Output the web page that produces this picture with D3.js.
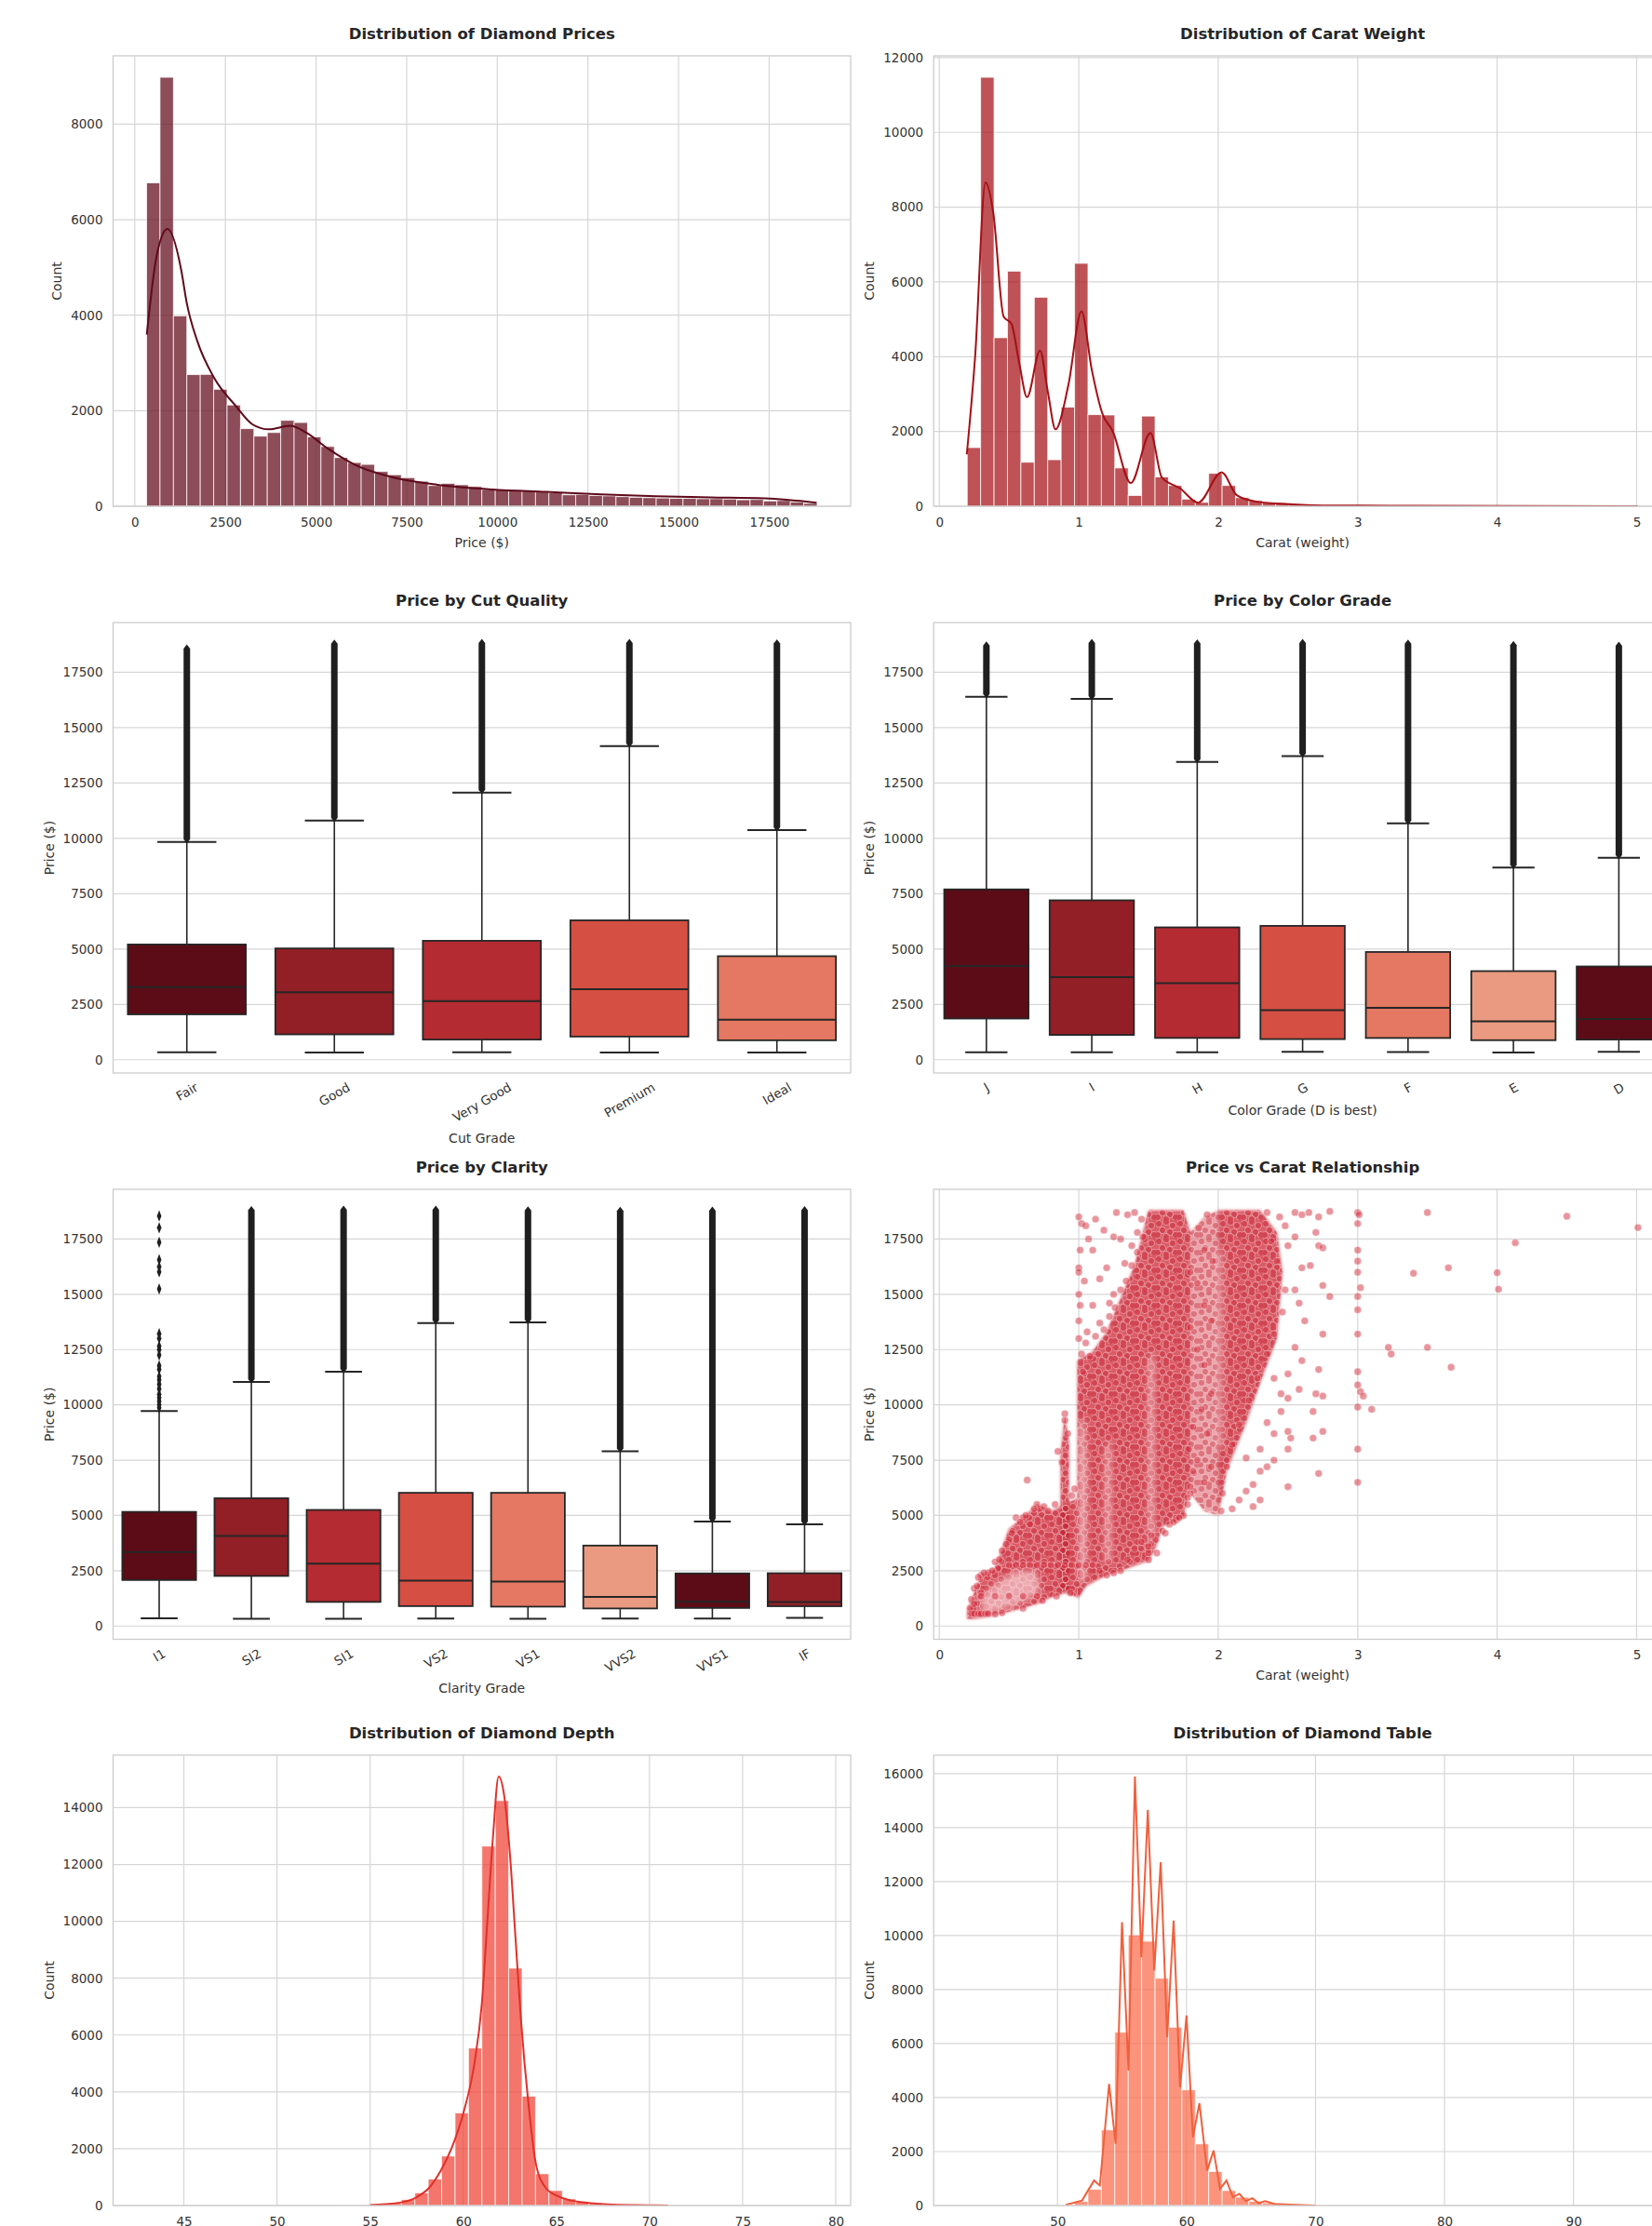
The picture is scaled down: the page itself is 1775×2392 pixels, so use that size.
<!DOCTYPE html>
<html>
<head>
<meta charset="utf-8">
<script src="https://cdn.jsdelivr.net/npm/d3@7"></script>
<style>
  body { margin: 0; background: #fff; }
  svg { display: block; font-family: "DejaVu Sans", sans-serif; }
</style>
</head>
<body>
<svg id="chart"></svg>
<script>
// ---- data ----

// price histogram (50 bins between min and max price)
const priceRange = [326, 18823];
const priceCounts = [6771, 8981, 3985, 2756, 2760, 2449, 2120, 1625, 1468, 1543,
  1798, 1753, 1453, 1251, 1019, 914, 876, 727, 659, 599,
  524, 434, 479, 449, 412, 352, 345, 337, 322, 300,
  285, 240, 247, 225, 217, 202, 187, 180, 172, 165,
  165, 157, 157, 150, 135, 142, 112, 120, 90, 60];
const priceKde = [[331, 3595], [602, 5240], [903, 5805], [1280, 4950], [1430, 4270], [1730, 3445],
  [2180, 2700], [2785, 2100], [3235, 1720], [3690, 1610], [4290, 1685], [4740, 1535],
  [5340, 1200], [6095, 860], [7150, 600], [8350, 450], [9860, 352], [11360, 300],
  [12870, 247], [14370, 210], [15880, 187], [17380, 165], [18810, 75]];
const priceXTicks = [0, 2500, 5000, 7500, 10000, 12500, 15000, 17500];
const priceCountTicks = [0, 2000, 4000, 6000, 8000];

// carat histogram
const caratRange = [0.2, 5.01];
const caratCounts = [1569, 11473, 4507, 6287, 1177, 5588, 1244, 2651, 6497, 2450,
  2440, 1024, 287, 2411, 785, 555, 191, 105, 880, 555,
  230, 153, 96, 67, 57, 38, 19, 10, 8, 25,
  5, 3, 2, 1, 2, 1, 1, 0, 1, 0,
  1, 1, 0, 0, 0, 0, 0, 0, 0, 1];
const caratKde = [[0.197, 1388], [0.257, 4019], [0.331, 8660], [0.387, 7847], [0.461, 5072],
  [0.517, 4880], [0.573, 3828], [0.629, 2919], [0.722, 4163], [0.778, 3062], [0.833, 2057],
  [0.926, 3253], [1.019, 5215], [1.094, 3636], [1.168, 2488], [1.243, 2009], [1.373, 622],
  [1.514, 1962], [1.596, 766], [1.726, 478], [1.856, 96], [2.024, 909], [2.135, 287],
  [2.284, 115], [2.507, 57], [2.805, 19], [3.03, 19], [3.4, 10], [5.01, 0]];
const caratTicks = [0, 1, 2, 3, 4, 5];
const caratCountTicks = [0, 2000, 4000, 6000, 8000, 10000, 12000];

// box plots: [min, q1, median, q3, upper whisker, max outlier]
const priceTicks = [0, 2500, 5000, 7500, 10000, 12500, 15000, 17500];
const boxColors = ["#5b0c17", "#921f26", "#b42b31", "#d54f43", "#e47862", "#ea9a80"];

const cutGrades = ["Fair", "Good", "Very Good", "Premium", "Ideal"];
const cutBoxes = [[337, 2050, 3282, 5206, 9836, 18574], [327, 1145, 3050, 5028, 10800, 18788],
  [336, 912, 2648, 5373, 12070, 18818], [326, 1046, 3185, 6296, 14170, 18823],
  [326, 878, 1810, 4678, 10370, 18806]];

const colorGrades = ["J", "I", "H", "G", "F", "E", "D"];
const colorBoxes = [[335, 1860, 4234, 7695, 16400, 18710], [334, 1120, 3730, 7202, 16300, 18823],
  [337, 984, 3460, 5980, 13450, 18803], [354, 931, 2242, 6048, 13720, 18818],
  [342, 982, 2344, 4868, 10680, 18791], [326, 882, 1739, 4003, 8680, 18731],
  [357, 911, 1838, 4214, 9120, 18693]];

const clarityGrades = ["I1", "SI2", "SI1", "VS2", "VS1", "VVS2", "VVS1", "IF"];
const clarityBoxes = [[345, 2080, 3344, 5161, 9720, null], [326, 2264, 4072, 5777, 11040, 18804],
  [326, 1089, 2822, 5250, 11500, 18818], [334, 900, 2054, 6024, 13700, 18823],
  [327, 876, 2005, 6023, 13730, 18795], [336, 794, 1311, 3638, 7900, 18768],
  [336, 816, 1093, 2379, 4720, 18777], [369, 895, 1080, 2388, 4600, 18806]];
// I1 outliers are sparse enough to read one by one
const i1Outliers = [18540, 18010, 17350, 16562, 16241, 16016, 15244, 13218, 13009, 12655,
  12494, 12253, 11771, 11610, 11288, 11127, 10934, 10725, 10484, 10323, 10162, 10002, 9873];

// scatter: outlines of the dense cloud (carat, price), pale streaks, single points
const scatterCloud = [
  [[0.2, 330], [0.2, 650], [0.25, 1500], [0.3, 2300], [0.4, 2600], [0.45, 3500], [0.5, 4400], [0.6, 4900],
   [0.7, 5500], [0.8, 5200], [0.9, 5500], [1.0, 5800], [1.0, 1300], [0.9, 1500], [0.8, 1300], [0.7, 1000],
   [0.5, 650], [0.35, 420], [0.25, 330]],
  [[0.87, 1600], [0.87, 7800], [0.9, 9500], [0.93, 8300], [0.93, 1600]],
  [[0.99, 1300], [0.99, 12000], [1.1, 12400], [1.2, 13300], [1.3, 14800], [1.4, 16300], [1.5, 18800],
   [1.5, 2950], [1.3, 2500], [1.2, 2300], [1.05, 1800], [1.0, 1300]],
  [[1.5, 2950], [1.5, 18800], [1.75, 18800], [1.8, 17800], [1.8, 6500], [1.75, 4900], [1.6, 4500], [1.55, 3500]],
  [[2.0, 5000], [2.0, 18800], [2.3, 18800], [2.42, 17800], [2.46, 16000], [2.42, 13000], [2.3, 11000],
   [2.2, 9200], [2.06, 7000]]
];
const scatterSparse = [
  [[1.8, 6000], [1.8, 17800], [1.9, 18500], [2.0, 18800], [2.0, 5000], [1.9, 5200]]
];
const scatterCores = [
  [[0.3, 600], [0.3, 1400], [0.45, 2100], [0.55, 2500], [0.7, 2500], [0.72, 1500], [0.55, 950], [0.4, 620]],
  [[1.0, 1900], [1.0, 9000], [1.04, 9500], [1.06, 7000], [1.05, 2100]],
  [[1.19, 2900], [1.19, 8000], [1.23, 8500], [1.23, 2900]],
  [[1.5, 3600], [1.5, 12000], [1.54, 12500], [1.54, 4100]],
  [[2.0, 8000], [2.0, 17000], [2.03, 17000], [2.03, 8000]]
];
const scatterPoints = [
  [2.55, 18700], [2.6, 18600], [2.65, 18700], [2.8, 18750], [2.72, 18500], [2.55, 17600], [2.7, 17800],
  [2.72, 17200], [2.75, 17100], [2.6, 16200], [2.66, 16300], [2.55, 15200], [2.75, 15400], [2.8, 14900],
  [2.58, 14600], [2.62, 13800], [2.75, 13200], [2.55, 12600], [2.6, 12000], [2.72, 11600], [2.5, 11400],
  [2.58, 10700], [2.7, 10500], [2.75, 10400], [2.5, 10300], [2.45, 9700], [2.68, 9700], [2.5, 8800],
  [2.52, 8500], [2.75, 8800], [2.68, 8500], [2.5, 8000], [2.72, 6900], [2.5, 6300],
  [2.3, 7000], [2.35, 7200], [2.25, 6400], [2.2, 6100], [2.15, 5700], [2.1, 5300], [2.3, 5700],
  [2.25, 5400], [2.4, 7500], [2.4, 8700], [2.35, 9200], [2.3, 8000], [2.2, 7600], [2.45, 10500], [2.4, 11200],
  [2.38, 17400], [2.42, 16500], [2.48, 15200], [2.46, 14200], [2.4, 13200], [2.35, 12300], [2.28, 11200],
  [2.22, 10200], [2.15, 9100], [2.1, 8200], [2.06, 7200], [2.03, 6000], [2.02, 5200], [2.5, 17200],
  [2.44, 18500], [2.35, 18700], [2.48, 18100],
  [3.0, 18700], [3.01, 18600], [3.0, 18200], [3.0, 17000], [3.0, 16500], [3.0, 16000], [3.02, 15300],
  [3.0, 14900], [3.0, 14300], [3.0, 13200], [3.0, 11500], [3.0, 10900], [3.02, 10600], [3.04, 10400],
  [3.0, 9900], [3.1, 9800], [3.0, 8000], [3.0, 6500],
  [3.22, 12600], [3.24, 12300], [3.4, 15950], [3.5, 18700], [3.5, 12600], [3.65, 16200], [3.67, 11700],
  [4.0, 15980], [4.01, 15230], [4.13, 17330], [4.5, 18530], [5.01, 18020],
  [1.0, 18500], [1.02, 18200], [1.05, 18100], [1.01, 17000], [1.0, 16200], [1.0, 16000], [1.0, 15000],
  [1.04, 15600], [1.01, 14500], [1.07, 17500], [1.1, 17000], [1.2, 16200], [1.15, 15700], [1.27, 18700],
  [1.3, 17500], [1.35, 18600], [1.25, 17600], [1.33, 16400], [1.25, 15000], [1.1, 14500], [1.15, 13700],
  [1.22, 14600], [1.4, 18700], [1.45, 18400], [1.42, 17800], [1.38, 17200], [1.12, 18400], [1.18, 17900],
  [1.06, 13300], [1.02, 12300], [1.05, 12800], [1.08, 12200], [1.12, 13100], [1.18, 13400], [1.22, 14000],
  [1.26, 14400], [1.3, 15200], [1.34, 15600], [1.38, 16300], [1.42, 16900], [1.46, 17600], [1.0, 13000],
  [1.0, 13800], [1.03, 11500],
  [1.8, 16000], [1.85, 15500], [1.9, 17000], [1.92, 18600], [1.85, 12500], [1.9, 11800], [1.95, 10500],
  [1.88, 9800], [1.82, 9000], [1.92, 8700], [1.85, 7500], [1.95, 7200], [1.9, 6500], [1.8, 6000],
  [1.78, 5800], [1.9, 14500], [1.95, 13800], [1.8, 13500], [1.86, 18000], [1.96, 16500],
  [1.6, 4300], [1.65, 4600], [1.7, 4800], [1.75, 5000], [1.55, 3900], [1.5, 3000], [1.5, 3300],
  [1.45, 3800], [1.4, 3500], [1.35, 3000], [1.3, 2500], [1.25, 2400], [1.2, 2300], [1.15, 2500],
  [1.5, 3600], [1.52, 4100], [1.56, 3300], [1.62, 4200], [1.68, 4700], [1.72, 4900], [1.78, 5500],
  [1.8, 6300], [1.82, 7000], [1.79, 8000],
  [0.63, 6600], [0.7, 5500], [0.72, 5300], [0.85, 7900], [0.88, 7400], [0.9, 9600], [0.9, 9300],
  [0.92, 8700], [0.55, 4900], [0.6, 4900], [0.65, 4600], [0.5, 3900], [0.45, 3400], [0.4, 2900],
  [0.3, 2300], [0.28, 2200], [0.25, 1700], [0.23, 1200], [0.3, 1500], [0.22, 800], [0.35, 2400], [0.42, 2600],
  [0.25, 1000], [0.27, 1800], [0.32, 2400], [0.38, 2500], [0.43, 3000], [0.48, 3700], [0.52, 4200],
  [0.58, 4700], [0.62, 5000], [0.68, 5300], [0.75, 5400], [0.78, 5200], [0.83, 5500], [0.95, 5900],
  [0.97, 6200], [0.94, 1500], [0.84, 1350], [0.74, 1150], [0.6, 800], [0.45, 600],
  [0.5, 2750], [0.55, 2760], [0.6, 2750], [0.65, 2760], [0.7, 2750], [0.75, 2760], [0.8, 2750],
  [0.85, 2760], [0.9, 2750], [0.95, 2760], [1.0, 2750], [1.05, 2750], [1.1, 2760],
  [0.3, 1350], [0.4, 1350], [0.5, 1350], [0.6, 1350], [0.7, 1350],
  [0.23, 560], [0.25, 560], [0.28, 560], [0.3, 560], [0.33, 560], [0.35, 560], [0.4, 540]
];

// depth histogram
const depthRange = [43, 79];
const depthCounts = [1, 0, 0, 0, 1, 0, 1, 2, 2, 3, 4, 5, 6, 8, 12, 20,
  30, 50, 90, 210, 447, 930, 1741, 3259, 5541, 12647, 14247, 8353, 3847, 1118,
  529, 235, 141, 94, 59, 47, 35, 24, 12, 8, 5, 3, 2, 1, 1, 0, 0, 1, 0, 1];
const depthKde = [[55, 20], [56.5, 94], [57.5, 294], [58.2, 647], [58.8, 1235], [59.4, 2059],
  [60.0, 3235], [60.6, 5000], [61.0, 7118], [61.3, 10059], [61.6, 13000], [61.9, 15094],
  [62.2, 14412], [62.5, 12412], [62.8, 9470], [63.1, 6529], [63.5, 3588], [63.9, 1470],
  [64.4, 647], [65.0, 353], [65.8, 176], [66.7, 94], [68, 35], [70, 12], [71, 0]];
const depthTicks = [45, 50, 55, 60, 65, 70, 75, 80];
const depthCountTicks = [0, 2000, 4000, 6000, 8000, 10000, 12000, 14000];

// table histogram
const tableRange = [43, 95];
const tableCounts = [1, 0, 0, 0, 0, 2, 6, 25, 150, 600,
  2802, 6420, 10025, 9790, 8420, 6605, 4284, 2284, 1259, 556,
  309, 160, 99, 62, 37, 20, 12, 6, 4, 2,
  1, 1, 0, 0, 1, 0, 0, 0, 0, 0, 0, 0, 0, 0, 0, 0, 0, 0, 0, 1];
const tableKde = [[50.65, 25], [51.9, 185], [52.83, 926], [53.28, 741], [54.0, 4506], [54.5, 2284],
  [55.0, 10494], [55.5, 5000], [56.0, 15889], [56.5, 9198], [57.0, 14654], [57.5, 8704],
  [58.0, 12716], [58.5, 6235], [59.0, 10556], [59.5, 4383], [60.0, 7037], [60.5, 2531],
  [61.0, 3790], [61.6, 1296], [62.1, 2037], [62.6, 617], [63.1, 926], [63.6, 309], [64.1, 432],
  [64.6, 160], [65.1, 272], [65.6, 86], [66.1, 160], [66.8, 62], [68, 37], [70, 0]];
const tableTicks = [50, 60, 70, 80, 90];
const tableCountTicks = [0, 2000, 4000, 6000, 8000, 10000, 12000, 14000, 16000];

// ---- layout ----
const W = 1775, H = 2392;
const COLS = [[121.5, 914], [1003.2, 1796]];
const ROWS = [[60, 544], [669, 1153], [1278, 1761.5], [1886, 2370]];
const GRID = "#d6d6d6", SPINE = "#cccccc", INK = "#333";

const svg = d3.select("#chart").attr("width", W).attr("height", H);
const defs = svg.append("defs");

// speckle texture for the dense part of the scatter (overlapping markers with white rims)
const pat = defs.append("pattern").attr("id", "speckle")
  .attr("width", 23).attr("height", 19).attr("patternUnits", "userSpaceOnUse");
[[3, 4], [11, 2], [18, 6], [7, 11], [15, 13], [21, 16], [2, 16], [11, 18]].forEach(([cx, cy]) => {
  pat.append("circle").attr("cx", cx).attr("cy", cy).attr("r", 3.6)
    .attr("fill", "#c01a2c").attr("fill-opacity", 0.35)
    .attr("stroke", "#fff").attr("stroke-opacity", 0.5).attr("stroke-width", 0.7);
});
defs.append("filter").attr("id", "soft").attr("x", "-5%").attr("y", "-5%").attr("width", "110%").attr("height", "110%")
  .append("feGaussianBlur").attr("stdDeviation", 1.6);
defs.append("filter").attr("id", "softer")
  .append("feGaussianBlur").attr("stdDeviation", 3);

function pad(lo, hi) {
  const m = (hi - lo) * 0.05;
  return [lo - m, hi + m];
}

function panel(col, row, title) {
  const [x0, x1] = COLS[col], [y0, y1] = ROWS[row];
  const id = "clip" + col + row;
  defs.append("clipPath").attr("id", id).append("rect")
    .attr("x", x0).attr("y", y0).attr("width", x1 - x0).attr("height", y1 - y0);
  const g = svg.append("g");
  g.append("text")
    .attr("x", (x0 + x1) / 2).attr("y", y0 - 18)
    .attr("text-anchor", "middle").attr("font-weight", "bold")
    .attr("font-size", 16.5).attr("fill", "#262626")
    .text(title);
  return { g, x0, x1, y0, y1, clip: "url(#" + id + ")" };
}

function frame(p) {
  p.g.append("rect")
    .attr("x", p.x0).attr("y", p.y0).attr("width", p.x1 - p.x0).attr("height", p.y1 - p.y0)
    .attr("fill", "none").attr("stroke", SPINE).attr("stroke-width", 1.3);
}

function gridY(p, y, ticks) {
  p.g.append("g").selectAll("line").data(ticks).join("line")
    .attr("x1", p.x0).attr("x2", p.x1)
    .attr("y1", d => y(d)).attr("y2", d => y(d))
    .attr("stroke", GRID).attr("stroke-width", 1.2);
}

function gridX(p, x, ticks) {
  p.g.append("g").selectAll("line").data(ticks).join("line")
    .attr("y1", p.y0).attr("y2", p.y1)
    .attr("x1", d => x(d)).attr("x2", d => x(d))
    .attr("stroke", GRID).attr("stroke-width", 1.2);
}

function styleAxis(a) {
  a.select(".domain").remove();
  a.selectAll("text").attr("font-size", 13.5).attr("font-family", "DejaVu Sans").attr("fill", INK);
}

function yAxis(p, y, ticks, label) {
  const a = p.g.append("g").attr("transform", `translate(${p.x0},0)`)
    .call(d3.axisLeft(y).tickValues(ticks).tickSize(0).tickPadding(11).tickFormat(d3.format("d")));
  styleAxis(a);
  const b = a.node().getBBox();
  p.g.append("text")
    .attr("transform", `translate(${p.x0 + b.x - 15},${(p.y0 + p.y1) / 2}) rotate(-90)`)
    .attr("text-anchor", "middle").attr("dominant-baseline", "central")
    .attr("font-size", 14).attr("fill", INK).text(label);
}

function xAxis(p, x, ticks, label) {
  const a = p.g.append("g").attr("transform", `translate(0,${p.y1})`)
    .call(d3.axisBottom(x).tickValues(ticks).tickSize(0).tickPadding(12).tickFormat(d3.format("d")));
  styleAxis(a);
  if (label) {
    const b = a.node().getBBox();
    p.g.append("text")
      .attr("x", (p.x0 + p.x1) / 2).attr("y", p.y1 + b.y + b.height + 14)
      .attr("text-anchor", "middle").attr("dominant-baseline", "central")
      .attr("font-size", 14).attr("fill", INK).text(label);
  }
}

// categorical x labels rotated 30 degrees, centred under each tick
function rotatedLabels(p, x, cats, label) {
  const lg = p.g.append("g");
  lg.selectAll("text").data(cats).join("text")
    .text(d => d)
    .attr("font-size", 13.5).attr("fill", INK)
    .attr("text-anchor", "middle").attr("dominant-baseline", "central")
    .each(function (d) {
      const w = this.getComputedTextLength();
      const bh = w * 0.5 + 13.5 * 0.866;
      d3.select(this).attr("transform",
        `translate(${x(d) + x.bandwidth() / 2},${p.y1 + 8 + bh / 2}) rotate(-30)`);
    });
  const b = lg.node().getBBox();
  p.g.append("text")
    .attr("x", (p.x0 + p.x1) / 2).attr("y", b.y + b.height + 14)
    .attr("text-anchor", "middle").attr("dominant-baseline", "central")
    .attr("font-size", 14).attr("fill", INK).text(label);
}

function histogram(p, o) {
  const x = d3.scaleLinear().domain(pad(o.range[0], o.range[1])).range([p.x0, p.x1]);
  const top = Math.max(d3.max(o.counts), d3.max(o.kde, d => d[1])) * 1.05;
  const y = d3.scaleLinear().domain([0, top]).range([p.y1, p.y0]);
  gridX(p, x, o.xTicks);
  gridY(p, y, o.yTicks);

  const step = (o.range[1] - o.range[0]) / o.counts.length;
  const body = p.g.append("g").attr("clip-path", p.clip);
  body.selectAll("rect").data(o.counts).join("rect")
    .attr("x", (d, i) => x(o.range[0] + i * step))
    .attr("width", x(o.range[0] + step) - x(o.range[0]))
    .attr("y", d => y(d))
    .attr("height", d => y(0) - y(d))
    .attr("fill", o.fill).attr("fill-opacity", o.alpha)
    .attr("stroke", "#fff").attr("stroke-opacity", 0.75).attr("stroke-width", 1);

  body.append("path").datum(o.kde)
    .attr("d", d3.line().x(d => x(d[0])).y(d => y(d[1])).curve(o.curve))
    .attr("fill", "none").attr("stroke", o.line).attr("stroke-width", 2);

  xAxis(p, x, o.xTicks, o.xLabel);
  yAxis(p, y, o.yTicks, "Count");
  frame(p);
}

function boxplot(p, cats, stats, extra, xLabel) {
  const x = d3.scaleBand().domain(cats).range([p.x0, p.x1]);
  const y = d3.scaleLinear().domain(pad(priceRange[0], priceRange[1])).range([p.y1, p.y0]);
  gridY(p, y, priceTicks);
  const bw = x.bandwidth() * 0.8;
  const edge = "#262626";

  cats.forEach((c, i) => {
    const [lo, q1, med, q3, hi, mx] = stats[i];
    const cx = x(c) + x.bandwidth() / 2;
    const g = p.g.append("g");
    // whiskers + caps
    g.append("line").attr("x1", cx).attr("x2", cx).attr("y1", y(lo)).attr("y2", y(q1))
      .attr("stroke", edge).attr("stroke-width", 1.6);
    g.append("line").attr("x1", cx).attr("x2", cx).attr("y1", y(q3)).attr("y2", y(hi))
      .attr("stroke", edge).attr("stroke-width", 1.6);
    [lo, hi].forEach(v => g.append("line")
      .attr("x1", cx - bw / 4).attr("x2", cx + bw / 4).attr("y1", y(v)).attr("y2", y(v))
      .attr("stroke", edge).attr("stroke-width", 2));
    // box
    g.append("rect").attr("x", cx - bw / 2).attr("width", bw)
      .attr("y", y(q3)).attr("height", y(q1) - y(q3))
      .attr("fill", boxColors[i % boxColors.length])
      .attr("stroke", edge).attr("stroke-width", 1.8);
    g.append("line").attr("x1", cx - bw / 2).attr("x2", cx + bw / 2)
      .attr("y1", y(med)).attr("y2", y(med))
      .attr("stroke", edge).attr("stroke-width", 2);
    // dense run of outlier diamonds
    if (mx != null) {
      const yt = y(mx), yb = y(hi) - 3, hw = 3.5;
      g.append("path")
        .attr("d", `M${cx},${yt - 4.5}L${cx + hw},${yt}L${cx + hw},${yb}L${cx},${yb + 4.5}L${cx - hw},${yb}L${cx - hw},${yt}Z`)
        .attr("fill", "#1f1f1f");
    }
  });

  if (extra) {
    const cx = x(extra.cat) + x.bandwidth() / 2;
    p.g.append("g").selectAll("path").data(extra.values).join("path")
      .attr("d", d3.symbol(d3.symbolDiamond, 36))
      .attr("transform", d => `translate(${cx},${y(d)}) scale(0.75,1.1)`)
      .attr("fill", "#1f1f1f");
  }

  yAxis(p, y, priceTicks, "Price ($)");
  rotatedLabels(p, x, cats, xLabel);
  frame(p);
}

function scatter(p) {
  const x = d3.scaleLinear().domain(pad(caratRange[0], caratRange[1])).range([p.x0, p.x1]);
  const y = d3.scaleLinear().domain(pad(priceRange[0], priceRange[1])).range([p.y1, p.y0]);
  gridX(p, x, caratTicks);
  gridY(p, y, priceTicks);
  const line = d3.line().x(d => x(d[0])).y(d => y(d[1])).curve(d3.curveLinearClosed);
  const body = p.g.append("g").attr("clip-path", p.clip);

  const cloud = body.append("g").attr("filter", "url(#soft)");
  cloud.selectAll(".cloud").data(scatterCloud).join("path").attr("class", "cloud")
    .attr("d", line).attr("fill", "#d5404d").attr("fill-opacity", 0.85);
  cloud.selectAll(".sparse").data(scatterSparse).join("path").attr("class", "sparse")
    .attr("d", line).attr("fill", "#e06670").attr("fill-opacity", 0.6);
  body.selectAll(".tex").data(scatterCloud.concat(scatterSparse)).join("path").attr("class", "tex")
    .attr("d", line).attr("fill", "url(#speckle)");
  body.append("g").attr("filter", "url(#softer)")
    .selectAll(".core").data(scatterCores).join("path").attr("class", "core")
    .attr("d", line).attr("fill", "#fbe3e5").attr("fill-opacity", 0.6);

  body.selectAll("circle").data(scatterPoints).join("circle")
    .attr("cx", d => x(d[0])).attr("cy", d => y(d[1])).attr("r", 3.9)
    .attr("fill", "#d42c3c").attr("fill-opacity", 0.5)
    .attr("stroke", "#fff").attr("stroke-opacity", 0.6).attr("stroke-width", 0.6);

  xAxis(p, x, caratTicks, "Carat (weight)");
  yAxis(p, y, priceTicks, "Price ($)");
  frame(p);
}

// ---- panels ----
histogram(panel(0, 0, "Distribution of Diamond Prices"), {
  range: priceRange, counts: priceCounts, kde: priceKde,
  fill: "#661020", alpha: 0.75, line: "#5e0a1a", curve: d3.curveMonotoneX,
  xTicks: priceXTicks, yTicks: priceCountTicks, xLabel: "Price ($)"
});

histogram(panel(1, 0, "Distribution of Carat Weight"), {
  range: caratRange, counts: caratCounts, kde: caratKde,
  fill: "#a50f15", alpha: 0.72, line: "#a50f15", curve: d3.curveMonotoneX,
  xTicks: caratTicks, yTicks: caratCountTicks, xLabel: "Carat (weight)"
});

boxplot(panel(0, 1, "Price by Cut Quality"), cutGrades, cutBoxes, null, "Cut Grade");
boxplot(panel(1, 1, "Price by Color Grade"), colorGrades, colorBoxes, null, "Color Grade (D is best)");
boxplot(panel(0, 2, "Price by Clarity"), clarityGrades, clarityBoxes,
  { cat: "I1", values: i1Outliers }, "Clarity Grade");
scatter(panel(1, 2, "Price vs Carat Relationship"));

histogram(panel(0, 3, "Distribution of Diamond Depth"), {
  range: depthRange, counts: depthCounts, kde: depthKde,
  fill: "#ef3b2c", alpha: 0.7, line: "#e0302a", curve: d3.curveMonotoneX,
  xTicks: depthTicks, yTicks: depthCountTicks, xLabel: null
});

histogram(panel(1, 3, "Distribution of Diamond Table"), {
  range: tableRange, counts: tableCounts, kde: tableKde,
  fill: "#fb6a4a", alpha: 0.72, line: "#f0603e", curve: d3.curveLinear,
  xTicks: tableTicks, yTicks: tableCountTicks, xLabel: null
});
</script>
</body>
</html>
